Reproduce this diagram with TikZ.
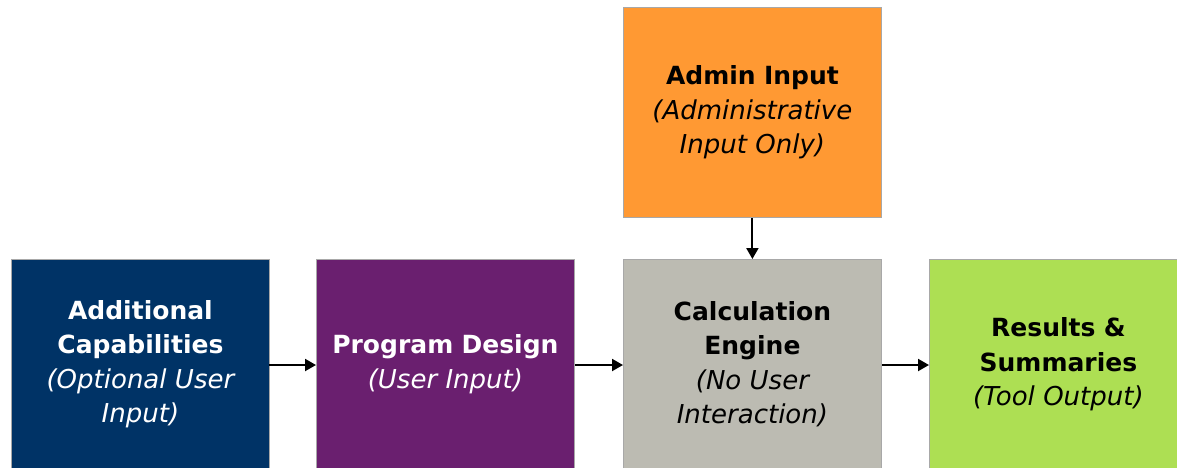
\documentclass[tikz,border=0pt]{standalone}
\usepackage{fontspec}
\setmainfont{DejaVu Sans}
\usetikzlibrary{arrows.meta}
\definecolor{navy}{HTML}{003366}
\definecolor{plum}{HTML}{6A1F6F}
\definecolor{stone}{HTML}{BCBBB2}
\definecolor{amber}{HTML}{FF9933}
\definecolor{lime}{HTML}{ADDF53}
\definecolor{edge}{HTML}{A8A8A8}
\newcommand{\hdtxt}[1]{{\fontsize{25}{34.5}\selectfont\bfseries #1}}
\newcommand{\ittxt}[1]{{\fontsize{26}{34.5}\selectfont\itshape #1}}
\begin{document}
\begin{tikzpicture}[x=1pt,y=1pt,
  blk/.style={draw=edge, line width=0.8pt, minimum width=258pt, minimum height=210pt,
    inner sep=0pt, align=center, text width=256pt,
    font=\fontsize{25}{34.5}\selectfont},
  conn/.style={line width=2pt, -{Triangle[length=11pt,width=12pt]}}]
\clip (0,0) rectangle (1177,-467);
\fill[white] (0,0) rectangle (1177,-467);
\node[blk, fill=navy, text=white, anchor=north west] (add) at (11,-259)
  {\hdtxt{Additional}\\\hdtxt{Capabilities}\\\ittxt{(Optional User}\\\ittxt{Input)}};
\node[blk, fill=plum, text=white, anchor=north west] (prog) at (316,-259)
  {\hdtxt{Program Design}\\\ittxt{(User Input)}};
\node[blk, fill=stone, text=black, anchor=north west] (calc) at (623,-259)
  {\hdtxt{Calculation}\\\hdtxt{Engine}\\\ittxt{(No User}\\\ittxt{Interaction)}};
\node[blk, fill=lime, text=black, anchor=north west] (res) at (929,-259)
  {\hdtxt{Results \&}\\\hdtxt{Summaries}\\\ittxt{(Tool Output)}};
\node[blk, fill=amber, text=black, anchor=north west] (adm) at (623,-7)
  {\hdtxt{Admin Input}\\\ittxt{(Administrative}\\\ittxt{Input Only)}};
\coordinate (a1) at (269,-365);
\coordinate (b1) at (316,-365);
\coordinate (a2) at (575,-365);
\coordinate (b2) at (623,-365);
\coordinate (a3) at (882,-365);
\coordinate (b3) at (929,-365);
\draw[conn] (a1) -- (b1);
\draw[conn] (a2) -- (b2);
\draw[conn] (a3) -- (b3);
\draw[conn] (adm.south) -- (calc.north);
\end{tikzpicture}
\end{document}
